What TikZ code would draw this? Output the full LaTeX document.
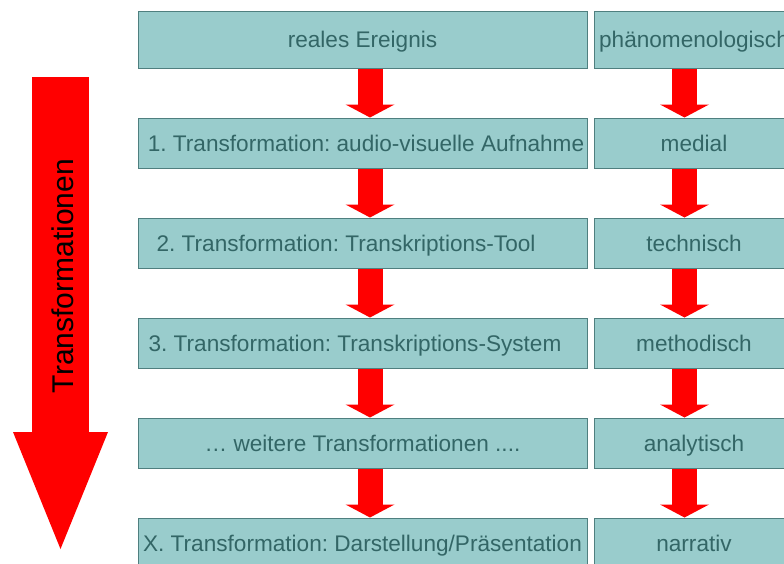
\documentclass[tikz,border=0pt]{standalone}
\usepackage{fontspec}
\setmainfont{Liberation Sans}
\frenchspacing
\usetikzlibrary{arrows.meta}
\definecolor{boxfill}{HTML}{99CCCC}
\definecolor{boxline}{HTML}{4F7F7F}
\definecolor{boxtext}{HTML}{336666}
\begin{document}
\begin{tikzpicture}[x=1pt,y=-1pt,
  stage/.style={draw=boxline, line width=1pt, fill=boxfill, text=boxtext,
    font=\fontsize{22.6}{26}\selectfont, inner sep=0pt, minimum height=50pt,
    text height=16.2pt, text depth=0pt},
  leftbox/.style={stage, minimum width=449pt},
  rightbox/.style={stage, minimum width=200pt},
  flow/.style={draw=red, line width=25pt,
    -{Triangle[length=13pt,width=49pt,line width=0pt]}},
  bigflow/.style={draw=red, line width=57pt,
    -{Triangle[length=117pt,width=95pt,line width=0pt]}}
]
\useasboundingbox (0,0) rectangle (784,563);
\begin{scope}
\clip (0,0) rectangle (784,563);

% left column: stages of transformation
\node[leftbox, minimum height=57pt] (l1) at (362.5,39.5) {reales Ereignis};
\node[leftbox] (l2) at (362.5,143) {\hspace{7pt}\mbox{}1. Transformation: audio-visuelle Aufnahme};
\node[leftbox] (l3) at (362.5,243) {2. Transformation: Transkriptions-Tool\hspace{33pt}\mbox{}};
\node[leftbox] (l4) at (362.5,343) {3. Transformation: Transkriptions-System\hspace{15pt}\mbox{}};
\node[leftbox] (l5) at (362.5,443) {… weitere Transformationen ....};
\node[leftbox] (l6) at (362.5,543) {X. Transformation: Darstellung/Präsentation};

% right column: kind of each stage
\node[rightbox, minimum height=57pt] (r1) at (694,39.5) {phänomenologisch};
\node[rightbox] (r2) at (694,143) {medial};
\node[rightbox] (r3) at (694,243) {technisch};
\node[rightbox] (r4) at (694,343) {methodisch};
\node[rightbox] (r5) at (694,443) {analytisch};
\node[rightbox] (r6) at (694,543) {narrativ};

% arrows between consecutive stages
\foreach \a/\b in {1/2,2/3,3/4,4/5,5/6}{
  \draw[flow] ([xshift=7.5pt]l\a.south) -- ([xshift=7.5pt]l\b.north);
  \draw[flow] ([xshift=-9.5pt]r\a.south) -- ([xshift=-9.5pt]r\b.north);
}

% large arrow on the left
\coordinate (bigtop) at (60.5,77);
\coordinate (bigtip) at (60.5,549);
\draw[bigflow] (bigtop) -- (bigtip);
\node[rotate=90, font=\fontsize{30}{34}\selectfont, text=black] (bigtext) at (63,276) {Transformationen};
\end{scope}
\end{tikzpicture}
\end{document}
